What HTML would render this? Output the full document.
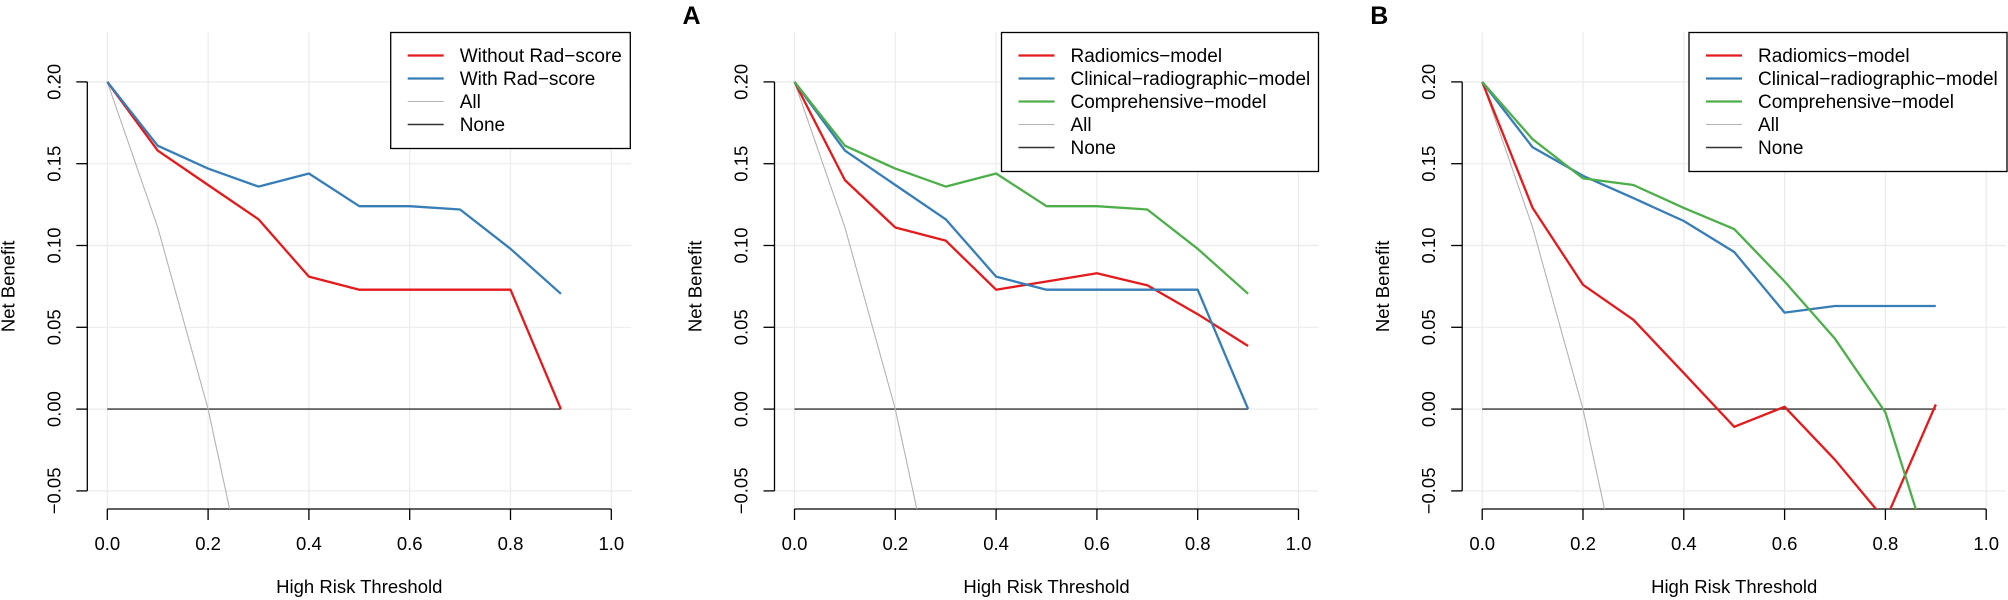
<!DOCTYPE html>
<html><head><meta charset="utf-8"><style>
html,body{margin:0;padding:0;background:#fff;width:2008px;height:600px;overflow:hidden;}
svg{display:block;font-family:"Liberation Sans",Arial,sans-serif;overflow:hidden;}
</style></head><body>
<svg id="fig" width="2008" height="600" viewBox="0 0 2008 600" xmlns="http://www.w3.org/2000/svg"></svg>
<script>
const thresholds = [0,0.1,0.2,0.3,0.4,0.5,0.6,0.7,0.8,0.9];
const xTicks = [0,0.2,0.4,0.6,0.8,1.0];
const xTickLabels = ["0.0","0.2","0.4","0.6","0.8","1.0"];
const yTicks = [-0.05,0,0.05,0.10,0.15,0.20];
const yTickLabels = ["\u22120.05","0.00","0.05","0.10","0.15","0.20"];
const prevalence = 0.2;
const allValues = thresholds.map(t => prevalence - (1-prevalence)*t/(1-t));
const noneValues = thresholds.map(() => 0);

const p1Without = [0.2,0.158,0.137,0.116,0.081,0.073,0.073,0.073,0.073,0.0];
const p1With = [0.2,0.161,0.147,0.136,0.144,0.124,0.124,0.122,0.098,0.0705];

const pARadiomics = [0.2,0.140,0.111,0.103,0.073,0.078,0.083,0.0757,0.058,0.0386];
const pAClinical = [0.2,0.158,0.137,0.116,0.081,0.073,0.073,0.073,0.073,0.0];
const pAComprehensive = [0.2,0.161,0.147,0.136,0.144,0.124,0.124,0.122,0.098,0.0705];

const pBRadiomics = [0.2,0.123,0.076,0.0546,0.022,-0.0108,0.0014,-0.031,-0.068,0.0028];
const pBClinical = [0.2,0.160,0.1426,0.129,0.115,0.096,0.059,0.063,0.063,0.063];
const pBComprehensive = [0.2,0.165,0.141,0.137,0.123,0.110,0.078,0.043,-0.002,-0.100];

const RED="#e41a1c", BLUE="#377eb8", GREEN="#4daf4a", GREY="#b3b3b3", BLACK="#333333";
const NS="http://www.w3.org/2000/svg";
const svg=document.getElementById('fig');
function mk(tag,attrs,parent){const e=document.createElementNS(NS,tag);for(const k in attrs)e.setAttribute(k,attrs[k]);(parent||svg).appendChild(e);return e;}

function panel(idx,x0,letter,drawSeries,legendSeries,legendX,rightEdge){
  const g=mk('g',{});
  
  
  const W=504, yZero=409.1, yUnit=1636;
  const sx=v=>x0+v*W, sy=v=>yZero-v*yUnit;
  const L=x0-20, R=x0+524, T=32.5, B=509;
  const cid='clip'+idx;
  const cp=mk('clipPath',{id:cid},g); mk('rect',{x:L,y:T,width:R-L,height:B-T},cp);
  xTicks.forEach(v=>{const l=mk('line',{x1:sx(v),x2:sx(v),y1:T,y2:B,stroke:'#ebebeb','stroke-width':1.2},g);
    
    });
  yTicks.forEach(v=>{const l=mk('line',{x1:L,x2:R,y1:sy(v),y2:sy(v),stroke:'#ebebeb','stroke-width':1.2},g);
    
    });
  const ya=mk('line',{x1:L,x2:L,y1:sy(0.2),y2:sy(-0.05),stroke:'#000','stroke-width':1.3},g);
  
  
  yTicks.forEach((v,i)=>{mk('line',{x1:L-11,x2:L,y1:sy(v),y2:sy(v),stroke:'#000','stroke-width':1.3},g);
    const t=mk('text',{x:0,y:0,transform:`translate(${x0-47},${sy(v)}) rotate(-90)`,'text-anchor':'middle','font-size':18.5,fill:'#000'},g);
    t.textContent=yTickLabels[i];
    
    });
  const xa=mk('line',{x1:sx(0),x2:sx(1),y1:509,y2:509,stroke:'#000','stroke-width':1.3},g);
  
  
  xTicks.forEach((v,i)=>{mk('line',{x1:sx(v),x2:sx(v),y1:509,y2:520,stroke:'#000','stroke-width':1.3},g);
    const t=mk('text',{x:sx(v),y:550,'text-anchor':'middle','font-size':18.5,fill:'#000'},g);
    t.textContent=xTickLabels[i];
    
    });
  const xt=mk('text',{x:sx(0.5),y:593,'text-anchor':'middle','font-size':18.5,fill:'#000'},g);
  xt.textContent='High Risk Threshold';
  
  
  const yt=mk('text',{x:0,y:0,transform:`translate(${x0-93},${sy(0.075)}) rotate(-90)`,'text-anchor':'middle','font-size':18.5,fill:'#000'},g);
  yt.textContent='Net Benefit';
  
  
  if(letter){const lt=mk('text',{x:x0-112,y:24,'font-size':25,'font-weight':'bold',fill:'#000'},g);
    lt.textContent=letter;
    
    }
  const cg=mk('g',{'clip-path':`url(#${cid})`},g);
  drawSeries.forEach(s=>{const pts=s.v.map((v,i)=>sx(thresholds[i]).toFixed(1)+','+sy(v).toFixed(1)).join(' ');
    const p=mk('polyline',{points:pts,fill:'none',stroke:s.c,'stroke-width':s.w,'stroke-linejoin':'round'},cg);
    
    });
  const lh=legendSeries.length*23+24;
  const lg=mk('g',{},g);
  
  
  mk('rect',{x:legendX,y:32.5,width:rightEdge-legendX,height:lh,fill:'#fff',stroke:'#000','stroke-width':1.3},lg);
  legendSeries.forEach((s,i)=>{const y=55.5+i*23;
    mk('line',{x1:legendX+17,x2:legendX+53,y1:y,y2:y,stroke:s.c,'stroke-width':s.w},lg);
    const t=mk('text',{x:legendX+69,y:y+6.5,'font-size':19,fill:'#000'},lg);
    t.textContent=s.label;
    
    });
}
function build(idx,x0,letter,models,legendX,rightEdge){
  const none={v:noneValues,c:BLACK,w:1.4,n:'none-line',label:'None'};
  const all={v:allValues,c:GREY,w:1.1,n:'all-line',label:'All'};
  panel(idx,x0,letter,[none,all].concat(models),models.concat([all,none]),legendX,rightEdge);
}
build(1,107.3,null,[
  {v:p1Without,c:RED,w:2.3,n:'without-rad-score-line',label:'Without Rad\u2212score'},
  {v:p1With,c:BLUE,w:2.3,n:'with-rad-score-line',label:'With Rad\u2212score'}],390.7,630.3);
build(2,794.5,'A',[
  {v:pARadiomics,c:RED,w:2.3,n:'radiomics-model-line',label:'Radiomics\u2212model'},
  {v:pAClinical,c:BLUE,w:2.3,n:'clinical-radiographic-model-line',label:'Clinical\u2212radiographic\u2212model'},
  {v:pAComprehensive,c:GREEN,w:2.3,n:'comprehensive-model-line',label:'Comprehensive\u2212model'}],1001.5,1318.5);
build(3,1482.2,'B',[
  {v:pBRadiomics,c:RED,w:2.3,n:'radiomics-model-line',label:'Radiomics\u2212model'},
  {v:pBClinical,c:BLUE,w:2.3,n:'clinical-radiographic-model-line',label:'Clinical\u2212radiographic\u2212model'},
  {v:pBComprehensive,c:GREEN,w:2.3,n:'comprehensive-model-line',label:'Comprehensive\u2212model'}],1689,2007);
</script>
</body></html>
